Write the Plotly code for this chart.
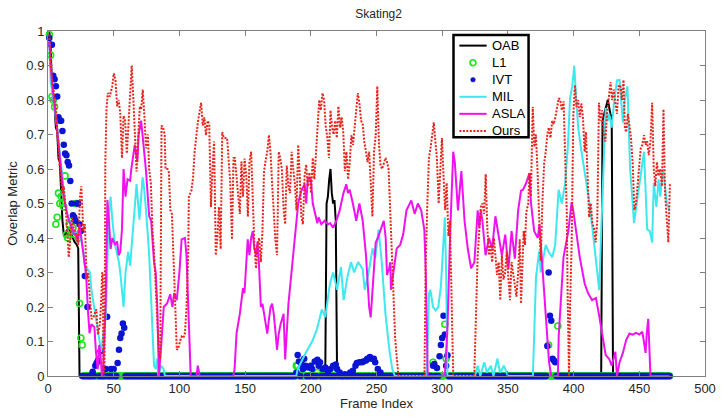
import plotly.graph_objects as go

# ---------------- data ----------------
n_frames = 473
frames = list(range(1, n_frames + 1))

# OAB (solid black line)
oab_x = [1, 2, 3, 4, 5, 6, 7, 8, 9, 10, 11, 12, 13, 14, 16, 18, 20, 22, 23, 24,
         211, 212, 213, 214, 215, 216, 217, 218, 219, 220,
         421, 422, 424, 426, 428, 429, 430, 473]
oab_y = [1.0, 0.95, 0.85, 0.80, 0.78, 0.72, 0.71, 0.63, 0.62, 0.52, 0.45, 0.41, 0.40, 0.42, 0.43, 0.41, 0.39, 0.38, 0.37, 0.0,
         0.0, 0.50, 0.52, 0.57, 0.60, 0.53, 0.50, 0.51, 0.45, 0.0,
         0.0, 0.74, 0.77, 0.80, 0.76, 0.75, 0.0, 0.0]

# L1 (open green circles, one per frame; frames not listed score 0)
l1_nonzero = {1: 0.99, 2: 0.93, 3: 0.81, 4: 0.80, 5: 0.78, 6: 0.44, 7: 0.46, 8: 0.53, 9: 0.50,
              10: 0.52, 11: 0.50, 12: 0.49, 13: 0.58, 14: 0.41, 15: 0.40, 16: 0.44, 17: 0.42,
              18: 0.45, 19: 0.43, 20: 0.41, 21: 0.50, 22: 0.50, 23: 0.40, 24: 0.21, 25: 0.11, 26: 0.09,
              189: 0.03, 190: 0.03, 192: 0.02, 205: 0.01, 212: 0.01,
              293: 0.04, 302: 0.15, 303: 0.05, 381: 0.09, 388: 0.145}

# IVT (filled blue dots, one per frame; frames not listed score 0)
ivt_nonzero = {1: 0.98, 2: 0.96, 3: 0.96, 4: 0.87, 5: 0.86, 6: 0.84, 7: 0.81, 8: 0.75, 9: 0.74,
               10: 0.74, 11: 0.71, 12: 0.67, 13: 0.645, 14: 0.64, 15: 0.62, 16: 0.61, 17: 0.565,
               18: 0.50, 19: 0.466, 20: 0.46, 21: 0.45, 22: 0.50, 23: 0.50, 24: 0.44, 25: 0.42,
               28: 0.29, 30: 0.20, 34: 0.012, 36: 0.03, 37: 0.038, 38: 0.045, 40: 0.072,
               44: 0.02, 45: 0.172, 48: 0.02, 50: 0.02, 53: 0.038, 54: 0.076, 55: 0.11, 56: 0.123,
               57: 0.152, 58: 0.14,
               189: 0.01, 190: 0.061, 191: 0.042, 193: 0.035, 194: 0.02, 195: 0.05, 196: 0.03,
               198: 0.025, 200: 0.03, 201: 0.02, 203: 0.042, 205: 0.047, 206: 0.03, 207: 0.04,
               209: 0.02, 211: 0.025, 213: 0.015, 215: 0.02, 217: 0.03, 219: 0.033, 220: 0.02,
               222: 0.01, 226: 0.005, 230: 0.01, 232: 0.015, 234: 0.03, 235: 0.038, 237: 0.04,
               239: 0.04, 240: 0.042, 242: 0.045, 243: 0.05, 245: 0.055, 246: 0.05, 248: 0.05,
               249: 0.04, 251: 0.02, 253: 0.01,
               293: 0.03, 294: 0.035, 296: 0.023, 298: 0.057, 299: 0.09, 300: 0.11, 301: 0.175,
               302: 0.12, 303: 0.03, 304: 0.06,
               380: 0.087, 381: 0.30, 382: 0.175, 383: 0.16, 384: 0.05, 385: 0.045, 386: 0.04}

l1_y = [l1_nonzero.get(f, 0.0) for f in frames]
ivt_y = [ivt_nonzero.get(f, 0.0) for f in frames]

# MIL (cyan line)
mil_x = [1, 2, 3, 5, 7, 9, 11, 13, 15, 17, 19, 21, 23, 25, 27, 28, 30, 32, 33, 35, 37, 39, 40.5,
         42, 44, 45, 46, 47.6, 49, 51, 52.6, 54, 55, 57.5, 59, 61, 62.5, 64, 66, 67.4, 69.6, 72,
         73, 74.6, 77, 78.3, 79.5, 80.7, 82, 83, 84, 86, 88, 89,
         189, 190, 196, 201, 204.7, 208.4, 211, 214.6, 217, 220, 223, 225, 228, 230.6, 233, 236,
         239.5, 241, 244, 247, 249, 251.6, 254, 256.8, 260, 262, 264,
         288, 289, 290, 291, 292, 293, 295, 297, 299, 300, 301, 302, 303, 304,
         325, 327, 329, 332, 334, 337, 339, 342, 344, 347, 350,
         369, 371.4, 373.8, 375, 376.5, 378.8, 381, 383.7, 386, 388.6, 391, 393.6, 395.6, 397.3,
         399, 400.5, 402, 403.5, 406, 408.4, 412, 414.6, 417, 419.5, 421.2, 422.7, 424.4, 426,
         427, 429, 430.6, 433, 435, 437.5, 439, 441, 443, 444, 446, 448, 450, 453.6, 456, 458,
         459.8, 461, 463, 464.7, 466, 468, 469.6, 471, 472, 473]
mil_y = [0.97, 0.85, 0.83, 0.78, 0.72, 0.65, 0.58, 0.50, 0.46, 0.45, 0.42, 0.41, 0.42, 0.40, 0.36, 0.32, 0.31, 0.30, 0.25, 0.20, 0.15, 0.10, 0.07,
         0.12, 0.17, 0.30, 0.45, 0.52, 0.45, 0.38, 0.35, 0.33, 0.30, 0.20, 0.30, 0.36, 0.32, 0.40, 0.50, 0.556, 0.453, 0.576,
         0.55, 0.481, 0.35, 0.237, 0.10, 0.03, 0.02, 0.05, 0.0, 0.03, 0.02, 0.0,
         0.0, 0.02, 0.066, 0.10, 0.136, 0.193, 0.17, 0.268, 0.30, 0.25, 0.316, 0.22, 0.29, 0.33, 0.30, 0.33,
         0.31, 0.25, 0.30, 0.37, 0.34, 0.424, 0.33, 0.18, 0.07, 0.02, 0.0,
         0.0, 0.10, 0.24, 0.25, 0.22, 0.20, 0.19, 0.20, 0.26, 0.33, 0.40, 0.46, 0.30, 0.0,
         0.0, 0.03, 0.0, 0.04, 0.01, 0.03, 0.0, 0.05, 0.01, 0.03, 0.0,
         0.0, 0.287, 0.362, 0.30, 0.33, 0.38, 0.36, 0.344, 0.38, 0.54, 0.50, 0.56, 0.664, 0.805,
         0.84, 0.90, 0.80, 0.72, 0.65, 0.588, 0.504, 0.419, 0.334, 0.249, 0.438, 0.627, 0.777, 0.74,
         0.76, 0.72, 0.786, 0.857, 0.858, 0.735, 0.80, 0.84, 0.60, 0.55, 0.443, 0.50, 0.55, 0.65, 0.425, 0.42,
         0.387, 0.56, 0.49, 0.57, 0.52, 0.60, 0.55, 0.50, 0.49, 0.48]

# ASLA (magenta line)
asla_x = [1, 3, 6, 8, 10, 12, 14, 16, 18, 20, 21.7, 22.5, 24, 26.7, 29, 30.4, 31.6, 33, 35.3, 36.5,
          37.8, 39, 40, 41, 42, 43.9, 45.2, 46.4, 47.6, 49, 51, 52.6, 53.8, 55, 56.3, 57.5, 59, 60.5,
          62.5, 63.4, 66, 68, 69, 70.9, 72, 74.6, 77, 78.5, 80.7, 82, 83.2, 84.4, 86, 88.1, 90.6, 93,
          94.7, 96, 98, 100, 101.7, 104.2, 105.4, 106.7, 108.6, 113, 114, 115.5, 141, 142, 143.5,
          146, 148.4, 149.5, 150.9, 152, 153.3, 154.6, 155.8, 157, 158.3, 159.5, 160.7, 162, 163.2,
          164.4, 166.9, 168, 169.4, 170.6, 171.8, 173, 174.3, 175.5, 177, 179.3, 180.5, 183, 185.4,
          186.6, 187.9, 190.4, 191.6, 192.8, 195.3, 196.5, 197.8, 200, 201.5, 202.7, 205, 206, 208,
          210.5, 213, 214.8, 217, 219.5, 222, 224.7, 227, 228.3, 229.6, 232, 234.6, 237, 239.5, 242,
          244.4, 245.6, 248, 249.4, 251, 253, 255.5, 257, 258, 259.5, 260.5, 261, 263, 265.4, 268,
          270.3, 272.8, 276.5, 279, 281.5, 284, 286.4, 287.5, 289, 302, 304, 306, 308.4, 309.6, 312,
          314.6, 317, 319.5, 322, 324.5, 327, 328.2, 329.4, 330.6, 333, 335.6, 338, 340.5, 343,
          345.4, 348, 350.4, 352.8, 355.3, 357.8, 360, 361.5, 364, 366.4, 367.6, 370, 372.8, 374,
          376.3, 378.8, 381.3, 383, 388, 388.7, 392.3, 396, 398.5, 399.7, 402, 404.7, 408.4, 411,
          414, 417, 419.5, 422, 424.4, 427, 429, 431.8, 433, 435, 437.5, 440, 442.5, 445, 447.5,
          450, 452.3, 453.5, 454.8, 455.6, 456.8, 458.5, 473]
asla_y = [0.97, 0.85, 0.75, 0.68, 0.60, 0.52, 0.48, 0.45, 0.43, 0.41, 0.406, 0.39, 0.44, 0.368, 0.293, 0.19, 0.124, 0.15, 0.142, 0.07,
          0.02, 0.09, 0.06, 0.0, 0.02, 0.21, 0.51, 0.45, 0.368, 0.40, 0.38, 0.39, 0.35, 0.36, 0.425, 0.60, 0.52, 0.57,
          0.566, 0.60, 0.67, 0.62, 0.70, 0.74, 0.70, 0.594, 0.463, 0.45, 0.33, 0.30, 0.20, 0.0, 0.08, 0.20, 0.21, 0.237,
          0.20, 0.24, 0.22, 0.30, 0.396, 0.40, 0.35, 0.20, 0.0, 0.0, 0.03, 0.0, 0.0, 0.02, 0.124,
          0.18, 0.255, 0.24, 0.35, 0.396, 0.35, 0.40, 0.42, 0.37, 0.35, 0.39, 0.312, 0.20, 0.21,
          0.18, 0.123, 0.16, 0.20, 0.21, 0.18, 0.133, 0.076, 0.12, 0.15, 0.18, 0.048, 0.21, 0.31,
          0.35, 0.396, 0.50, 0.52, 0.537, 0.556, 0.50, 0.576, 0.57, 0.50, 0.48, 0.443, 0.46, 0.44,
          0.45, 0.44, 0.443, 0.43, 0.45, 0.48, 0.528, 0.556, 0.53, 0.54, 0.50, 0.45, 0.50, 0.45, 0.35,
          0.20, 0.17, 0.30, 0.387, 0.40, 0.42, 0.45, 0.40, 0.293, 0.31, 0.33, 0.25, 0.30, 0.37, 0.38,
          0.41, 0.48, 0.509, 0.47, 0.50, 0.48, 0.425, 0.30, 0.0, 0.0, 0.14, 0.406, 0.65, 0.62, 0.48,
          0.594, 0.45, 0.368, 0.312, 0.33, 0.48, 0.43, 0.48, 0.45, 0.35, 0.40, 0.37, 0.463, 0.40,
          0.35, 0.41, 0.31, 0.42, 0.34, 0.48, 0.537, 0.54, 0.56, 0.588, 0.50, 0.42, 0.40, 0.44,
          0.306, 0.193, 0.04, 0.0, 0.0, 0.118, 0.344, 0.42, 0.504, 0.48, 0.42, 0.344, 0.268, 0.24,
          0.22, 0.226, 0.174, 0.118, 0.061, 0.05, 0.03, 0.07, 0.0, 0.04, 0.067, 0.104, 0.123, 0.12, 0.125,
          0.12, 0.128, 0.10, 0.067, 0.12, 0.166, 0.0, 0.0]

# Ours (red dotted line)
ours_x = [1, 2, 3.5, 6, 8.4, 10.9, 12, 13.5, 14.6, 15.8, 17, 18.3, 19.5, 20.7, 22, 23, 24.4, 25.3, 26,
          26.8, 28.1, 29.4, 30.5, 31.8, 33.1, 34.5, 36.8, 38, 39.5, 40.5, 41.2, 41.7, 42.2, 43, 43.6,
          44.5, 45.5, 47, 48.9, 50.1, 51.3, 52.6, 53.8, 55, 56.3, 57.5, 58.7, 60, 61.2, 62.5, 63.7,
          65, 66.2, 67.4, 68.7, 69.9, 70.9, 72.1, 73.4, 74.6, 76, 77, 78.3, 79.5, 80.7, 82, 83.2,
          84.4, 85.4, 86.4, 87.6, 88.8, 89.4, 91, 92, 93.1, 94.3, 95.6, 96.8, 98, 99.2, 100.4, 101.7,
          103, 104.2, 105.4, 106.7, 107.2, 109.1, 110.4, 111.6, 114, 116.5, 117.8, 119, 120.2, 121.5,
          122.7, 124, 125.2, 126.4, 127.7, 128.9, 130.1, 131.4, 132.6, 133.8, 136.3, 137.5, 138.7,
          140, 141.2, 142.2, 143.5, 144.7, 146, 147.2, 148.4, 149.6, 150.9, 152.1, 153.3, 154.6,
          155.8, 157, 158.3, 159.5, 160.7, 162, 163.2, 164.4, 165.7, 166.9, 168.1, 169.3, 170.6,
          171.8, 173, 174.3, 175.6, 176.8, 178, 179.3, 180.5, 181.7, 183, 184.2, 185.4, 186.6, 187.9,
          189.1, 190.4, 191.6, 192.8, 194, 195.3, 196.5, 197.7, 199, 200.2, 201.5, 202.7, 204, 205.2,
          206.4, 207.6, 208.9, 210.1, 211.3, 212.6, 213.8, 215, 216.2, 217.4, 218.6, 219.8, 221,
          222.3, 223.5, 224.7, 225.9, 227.1, 228.4, 229.6, 230.9, 232.1, 233.4, 234.6, 235.8, 237,
          238.3, 239.5, 240.7, 242, 243.2, 244.4, 245.6, 246.9, 248.1, 249.4, 250.6, 251.9, 253.1,
          254.3, 256.8, 258, 259.2, 260.5, 261.7, 263, 264.2, 265.5, 266.7, 286.5, 287.4, 288.7,
          289.9, 291.1, 292.4, 293.6, 294.8, 296, 297.3, 298.5, 299.8, 301, 302.2, 303.4, 304.7,
          305.9, 307.2, 308.4, 324.4, 325.7, 327, 328.2, 329.4, 330.6, 331.9, 333.1, 334.3, 335.6,
          336.8, 338, 339.3, 340.5, 341.7, 343, 344.2, 345.4, 346.6, 347.9, 349.1, 350.4, 351.6,
          352.8, 354, 355.3, 356.5, 357.8, 359, 360, 361, 362, 363, 364, 365.5, 366.4, 367.5, 368.9,
          370.1, 371.3, 372.5, 373.8, 375, 376.2, 377.6, 378.8, 380, 381.2, 382.4, 383.7, 384.9,
          386.1, 387.4, 388.7, 389.9, 391.1, 392.4, 393.6, 394.8, 395.4, 396, 396.5, 397.3, 398.5,
          399.8, 401, 402.2, 403.5, 404.7, 405.9, 407.1, 408.4, 409.4, 410.6, 411.8, 413.1, 414.3,
          415.5, 416.8, 418, 419.3, 420.5, 421.7, 422.9, 424.2, 425.4, 426.9, 428.1, 429.3, 430.5,
          431.8, 433, 434.2, 435.6, 436.8, 438, 439, 440, 441.3, 442.5, 443.7, 445, 446.3, 447.5,
          448.7, 449.9, 451.1, 452.3, 453.6, 454.8, 456, 457.2, 458.5, 459.8, 461, 462.2, 463.4,
          464.6, 465.9, 467.2, 468.4, 469.6, 470.9, 472.1, 473.3]
ours_y = [0.99, 0.90, 0.85, 0.78, 0.63, 0.53, 0.55, 0.48, 0.43, 0.344, 0.40, 0.46, 0.43, 0.42, 0.40, 0.38, 0.52, 0.55, 0.50,
          0.42, 0.44, 0.28, 0.30, 0.22, 0.165, 0.17, 0.193, 0.12, 0.15, 0.22, 0.30, 0.297, 0.0, 0.0, 0.613,
          0.773, 0.82, 0.81, 0.84, 0.877, 0.86, 0.782, 0.80, 0.76, 0.632, 0.754, 0.74, 0.645, 0.726, 0.82, 0.90,
          0.80, 0.698, 0.593, 0.70, 0.782, 0.773, 0.83, 0.75, 0.66, 0.70, 0.60, 0.556, 0.425, 0.359, 0.255, 0.133,
          0.068, 0.05, 0.726, 0.72, 0.70, 0.60, 0.60, 0.59, 0.481, 0.47, 0.35, 0.208, 0.076, 0.08, 0.10, 0.114,
          0.11, 0.124, 0.20, 0.35, 0.519, 0.537, 0.575, 0.65, 0.735, 0.792, 0.726, 0.75, 0.698, 0.74,
          0.73, 0.49, 0.60, 0.68, 0.35, 0.40, 0.49, 0.368, 0.707, 0.69, 0.69, 0.613, 0.56,
          0.396, 0.632, 0.632, 0.58, 0.51, 0.47, 0.622, 0.52, 0.63, 0.58, 0.462, 0.62, 0.65,
          0.50, 0.387, 0.312, 0.38, 0.40, 0.33, 0.42, 0.594, 0.626, 0.65, 0.698, 0.65, 0.556,
          0.48, 0.396, 0.35, 0.65, 0.63, 0.60, 0.481, 0.44, 0.61, 0.55, 0.53, 0.65, 0.60, 0.556,
          0.48, 0.67, 0.58, 0.462, 0.44, 0.58, 0.613, 0.55, 0.59, 0.53, 0.632, 0.57, 0.65, 0.726,
          0.80, 0.77, 0.82, 0.80, 0.726, 0.69, 0.632, 0.77, 0.72, 0.70, 0.74, 0.69, 0.782,
          0.72, 0.75, 0.707, 0.594, 0.65, 0.57, 0.62, 0.698, 0.67, 0.73, 0.764, 0.82, 0.79,
          0.74, 0.73, 0.679, 0.65, 0.62, 0.65, 0.56, 0.462, 0.65, 0.698, 0.84, 0.67, 0.61,
          0.60, 0.632, 0.62, 0.60, 0.481, 0.35, 0.208, 0.11, 0.05, 0.0, 0.0, 0.32, 0.50,
          0.632, 0.66, 0.70, 0.735, 0.68, 0.63, 0.50, 0.60, 0.69, 0.58, 0.481, 0.56, 0.406,
          0.45, 0.208, 0.0, 0.0, 0.16, 0.35, 0.42, 0.49, 0.50, 0.47, 0.585, 0.43, 0.35,
          0.38, 0.33, 0.40, 0.35, 0.293, 0.33, 0.22, 0.35, 0.28, 0.30, 0.36, 0.28, 0.22,
          0.33, 0.30, 0.26, 0.23, 0.30, 0.396, 0.21, 0.30, 0.42, 0.38, 0.475, 0.50, 0.588, 0.52, 0.78,
          0.664, 0.70, 0.60, 0.475, 0.334, 0.50, 0.617, 0.65, 0.701, 0.72, 0.69, 0.739, 0.73,
          0.75, 0.777, 0.805, 0.80, 0.77, 0.796, 0.645, 0.475, 0.255, 0.0, 0.0, 0.20, 0.38,
          0.758, 0.843, 0.78, 0.80, 0.75, 0.79, 0.75, 0.65, 0.707, 0.556, 0.46, 0.50, 0.443,
          0.43, 0.387, 0.45, 0.792, 0.74, 0.77, 0.70, 0.68, 0.76, 0.814, 0.852, 0.80, 0.83,
          0.79, 0.76, 0.84, 0.843, 0.80, 0.858, 0.72, 0.707, 0.76, 0.73, 0.69, 0.613, 0.481, 0.50,
          0.55, 0.613, 0.66, 0.67, 0.698, 0.67, 0.68, 0.64, 0.68, 0.792, 0.60, 0.55, 0.62,
          0.58, 0.60, 0.55, 0.773, 0.53, 0.443, 0.387, 0.556]

x_ticks = [0, 50, 100, 150, 200, 250, 300, 350, 400, 450, 500]
y_ticks = [0, 0.1, 0.2, 0.3, 0.4, 0.5, 0.6, 0.7, 0.8, 0.9, 1]
y_tick_text = ["0", "0.1", "0.2", "0.3", "0.4", "0.5", "0.6", "0.7", "0.8", "0.9", "1"]

# ---------------- styles ----------------
font_family = "Liberation Sans, Arial, sans-serif"
c_oab, c_l1, c_ivt = "#000000", "#19e619", "#0a14d2"
c_mil, c_asla, c_ours = "#3ee8ee", "#ee12ee", "#e8231a"
ours_dash = "2px,1.5px"

W, H = 728, 418
M_L, M_R, M_T, M_B = 42, 12, 31, 33
plot_w, plot_h = W - M_L - M_R, H - M_T - M_B


def px_to_paper(px, py):
    """Convert a pixel position in the figure to paper coordinates."""
    return (px - M_L) / plot_w, (H - M_B - py) / plot_h


fig = go.Figure()
fig.add_trace(go.Scatter(x=oab_x, y=oab_y, mode="lines", name="OAB",
                         line=dict(color=c_oab, width=2)))
fig.add_trace(go.Scatter(x=frames, y=l1_y, mode="markers", name="L1", cliponaxis=False,
                         marker=dict(symbol="circle-open", size=6, color=c_l1,
                                     line=dict(width=1.6, color=c_l1))))
fig.add_trace(go.Scatter(x=frames, y=ivt_y, mode="markers", name="IVT", cliponaxis=False,
                         marker=dict(symbol="circle", size=6.5, color=c_ivt)))
fig.add_trace(go.Scatter(x=mil_x, y=mil_y, mode="lines", name="MIL",
                         line=dict(color=c_mil, width=2)))
fig.add_trace(go.Scatter(x=asla_x, y=asla_y, mode="lines", name="ASLA",
                         line=dict(color=c_asla, width=2)))
fig.add_trace(go.Scatter(x=ours_x, y=ours_y, mode="lines", name="Ours",
                         line=dict(color=c_ours, width=2, dash=ours_dash)))

# ---------------- legend box (drawn as shapes + text) ----------------
shapes, annotations = [], []
bx0, by0 = px_to_paper(458, 140)
bx1, by1 = px_to_paper(535, 35)
shapes.append(dict(type="rect", xref="paper", yref="paper", x0=bx0, y0=by0, x1=bx1, y1=by1,
                   fillcolor="white", line=dict(color="black", width=2.5), layer="above"))

legend_entries = [
    ("OAB", "line", dict(color=c_oab, width=2)),
    ("L1", "ring", c_l1),
    ("IVT", "dot", c_ivt),
    ("MIL", "line", dict(color=c_mil, width=2)),
    ("ASLA", "line", dict(color=c_asla, width=2)),
    ("Ours", "line", dict(color=c_ours, width=2, dash=ours_dash)),
]
row_top, row_step = 46, 17.5
for i, (label, kind, style) in enumerate(legend_entries):
    row_py = row_top + i * row_step
    lx0, ly = px_to_paper(464, row_py)
    lx1, _ = px_to_paper(492, row_py)
    if kind == "line":
        shapes.append(dict(type="line", xref="paper", yref="paper", x0=lx0, x1=lx1, y0=ly, y1=ly,
                           line=style, layer="above"))
    else:
        r = 3.0 if kind == "ring" else 2.4
        cx0, cy0 = px_to_paper(478 - r, row_py + r)
        cx1, cy1 = px_to_paper(478 + r, row_py - r)
        if kind == "ring":
            shapes.append(dict(type="circle", xref="paper", yref="paper", x0=cx0, y0=cy0, x1=cx1, y1=cy1,
                               line=dict(color=style, width=1.6), fillcolor="rgba(0,0,0,0)", layer="above"))
        else:
            shapes.append(dict(type="circle", xref="paper", yref="paper", x0=cx0, y0=cy0, x1=cx1, y1=cy1,
                               line=dict(color=style, width=0.5), fillcolor=style, layer="above"))
    tx, ty = px_to_paper(495, row_py)
    annotations.append(dict(text=label, xref="paper", yref="paper", x=tx, y=ty, xanchor="left",
                            yanchor="middle", showarrow=False,
                            font=dict(family=font_family, size=13, color="#000000")))

# ---------------- axes & layout ----------------
axis_common = dict(showline=True, linecolor="#7f7f7f", linewidth=1, mirror="ticks",
                   ticks="inside", ticklen=5, tickcolor="#7f7f7f", showgrid=False, zeroline=False,
                   tickfont=dict(family=font_family, size=13, color="#262626"))

fig.update_xaxes(range=[0, 500], tickvals=x_ticks, **axis_common,
                 title=dict(text="Frame Index", standoff=1,
                            font=dict(family=font_family, size=13, color="#262626")))
fig.update_yaxes(range=[0, 1], tickvals=y_ticks, ticktext=y_tick_text, **axis_common,
                 title=dict(text="Overlap Metric", standoff=5,
                            font=dict(family=font_family, size=13, color="#262626")))

fig.update_layout(
    width=W, height=H,
    margin=dict(l=M_L, r=M_R, t=M_T, b=M_B),
    paper_bgcolor="white", plot_bgcolor="white",
    title=dict(text="Skating2", x=0.52, xanchor="center", y=0.968, yanchor="middle",
               font=dict(family=font_family, size=12, color="#262626")),
    showlegend=False,
    shapes=shapes,
    annotations=annotations,
)

fig.write_html("out.html")
